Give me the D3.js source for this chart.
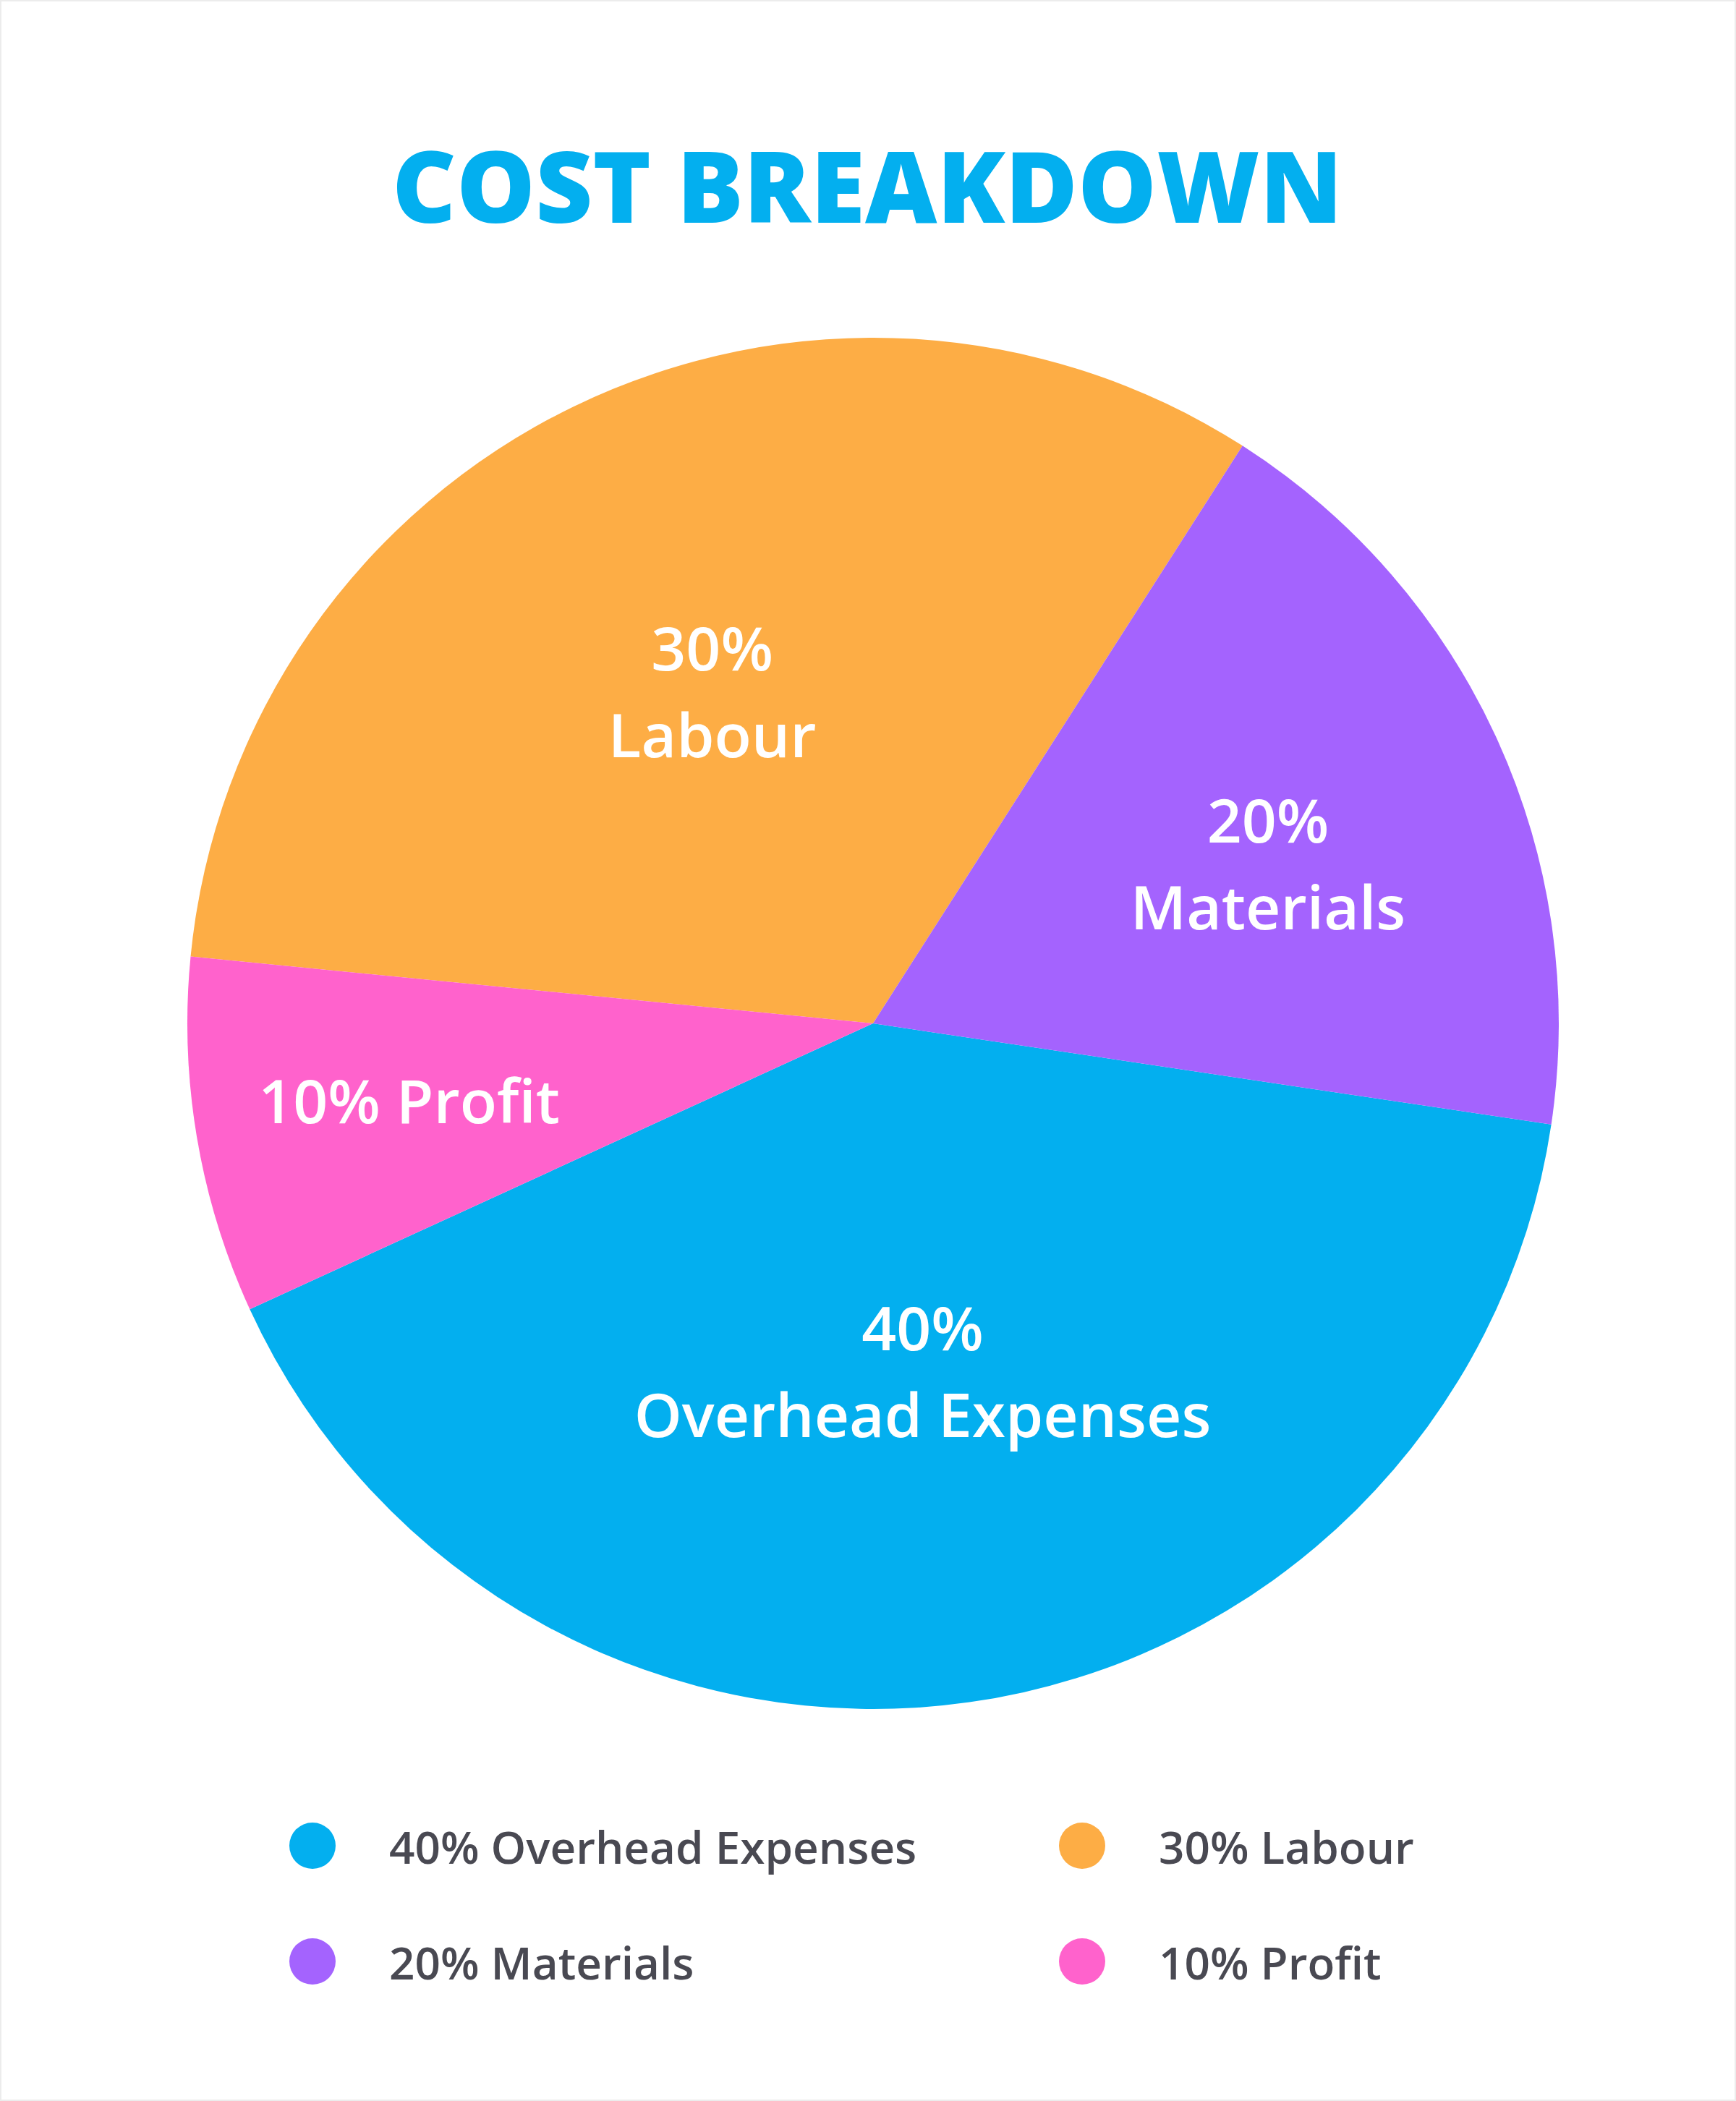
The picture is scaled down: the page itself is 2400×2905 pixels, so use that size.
<!DOCTYPE html>
<html>
<head>
<meta charset="utf-8">
<script src="https://cdn.jsdelivr.net/npm/d3@7"></script>
<style>
  body { margin: 0; background: #fff; }
  svg { display: block; }
  text { font-family: "Open Sans", sans-serif; }
</style>
</head>
<body>
<div id="chart"></div>
<script>
// data, legend order
var categories = ['Overhead Expenses', 'Labour', 'Materials', 'Profit']
var shares = [40.8, 32.5, 18.3, 8.4]          // slice sizes as drawn
var pctLabels = ['40%', '30%', '20%', '10%']  // printed labels
var colors = ['#03afef', '#fdad45', '#a463fe', '#ff62cc']

// clockwise order around the pie, starting at Materials
var pieOrder = ['Materials', 'Overhead Expenses', 'Profit', 'Labour']

var width = 2400
var height = 2905
var cx = 1207, cy = 1415, r = 948

var data = categories.map((d, i) => ({name: d, value: shares[i], pct: pctLabels[i], color: colors[i]}))

var svg = d3.select('#chart').append('svg')
  .attr('width', width)
  .attr('height', height)

svg.append('rect')
  .attr('x', 1).attr('y', 1)
  .attr('width', width - 2).attr('height', height - 2)
  .attr('fill', '#fff')
  .attr('stroke', '#ececec')
  .attr('stroke-width', 2)

svg.append('text')
  .attr('x', 1199).attr('y', 308)
  .attr('text-anchor', 'middle')
  .attr('fill', '#03afef')
  .attr('font-size', 137)
  .attr('font-weight', 800)
  .text('COST BREAKDOWN')

var pie = d3.pie()
  .value(d => d.value)
  .sort((a, b) => pieOrder.indexOf(a.name) - pieOrder.indexOf(b.name))
  .startAngle(32.6 * Math.PI / 180)
  .endAngle(32.6 * Math.PI / 180 + 2 * Math.PI)

var arc = d3.arc().innerRadius(0).outerRadius(r)

var g = svg.append('g').attr('transform', `translate(${cx},${cy})`)

var arcs = pie(data)

g.selectAll('path')
  .data(arcs)
  .join('path')
  .attr('d', arc)
  .attr('fill', d => d.data.color)

// label placement per slice: radius fraction, angle nudge (deg)
var labelPos = {
  'Overhead Expenses': {k: 0.514, da: 0},
  'Labour': {k: 0.537, da: 0},
  'Materials': {k: 0.621, da: 2.5},
  'Profit': {k: 0.686, da: 0}
}

arcs.forEach(d => {
  var p = labelPos[d.data.name]
  var a = (d.startAngle + d.endAngle) / 2 + p.da * Math.PI / 180
  var x = Math.sin(a) * r * p.k
  var y = -Math.cos(a) * r * p.k
  var t = g.append('text')
    .attr('text-anchor', 'middle')
    .attr('fill', '#fff')
    .attr('font-size', 84)
    .attr('font-weight', 600)
  if (d.data.name == 'Profit') {
    t.attr('x', x).attr('y', y + 30).text(d.data.pct + ' ' + d.data.name)
  } else {
    t.append('tspan').attr('x', x).attr('y', y - 30).text(d.data.pct)
    t.append('tspan').attr('x', x).attr('y', y + 90).text(d.data.name)
  }
})

// legend, 2 columns
var legend = svg.append('g')
var lx = d3.scalePoint().domain([0, 1]).range([432, 1496])
var ly = d3.scalePoint().domain([0, 1]).range([2552, 2712])

var item = legend.selectAll('g')
  .data(data)
  .join('g')
  .attr('transform', (d, i) => `translate(${lx(i % 2)},${ly(Math.floor(i / 2))})`)

item.append('circle').attr('r', 32).attr('fill', d => d.color)
item.append('text')
  .attr('x', 106).attr('y', 25)
  .attr('fill', '#494952')
  .attr('font-size', 62)
  .attr('font-weight', 600)
  .text(d => d.pct + ' ' + d.name)
</script>
</body>
</html>
